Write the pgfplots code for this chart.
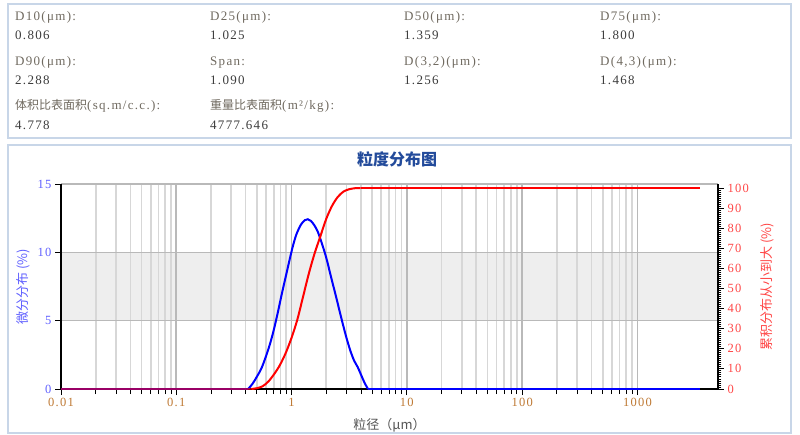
\documentclass[border=0pt]{standalone}
\usepackage{fontspec}
\setmainfont{Liberation Serif}
\newfontfamily\hdr{Liberation Serif}[LetterSpace=10]
\newfontfamily\cjk{Noto Sans CJK SC}
\usepackage{pgfplots}
\pgfplotsset{compat=1.18}

\definecolor{panelline}{RGB}{200,214,232}
\definecolor{lbl}{RGB}{112,106,96}
\definecolor{val}{RGB}{60,60,60}
\definecolor{ttl}{RGB}{35,75,155}
\definecolor{lblue}{RGB}{95,95,255}
\definecolor{lred}{RGB}{255,70,70}
\definecolor{xtk}{RGB}{190,120,50}
\definecolor{band}{RGB}{238,238,238}
\definecolor{gmajor}{RGB}{185,185,185}
\definecolor{gminor}{RGB}{215,215,215}
\definecolor{xlab}{RGB}{85,85,85}

% header entries: x, baseline y (px from top), text
\newcommand\hl[3]{\node[anchor=base west,inner sep=0pt,text=lbl] at (#1pt,-#2pt) {\hdr\fontsize{13}{15}\selectfont #3};}
\newcommand\hv[3]{\node[anchor=base west,inner sep=0pt,text=val] at (#1pt,-#2pt) {\hdr\fontsize{13}{15}\selectfont #3};}

\begin{document}
\begin{tikzpicture}
\fill[white] (0,0) rectangle (800pt,-435pt);
\draw[panelline, line width=1.5pt] (8pt,-4pt) rectangle (791pt,-138pt);
\draw[panelline, line width=1.5pt] (8pt,-145pt) rectangle (791pt,-433pt);

\hl{15}{21}{D10(μm):}    \hl{210}{21}{D25(μm):}  \hl{404}{21}{D50(μm):}       \hl{600}{21}{D75(μm):}
\hv{15}{40}{0.806}       \hv{210}{40}{1.025}     \hv{404}{40}{1.359}          \hv{600}{40}{1.800}
\hl{15}{66}{D90(μm):}    \hl{210}{66}{Span:}     \hl{404}{66}{D(3,2)(μm):}    \hl{600}{66}{D(4,3)(μm):}
\hv{15}{84.5}{2.288}     \hv{210}{84.5}{1.090}   \hv{404}{84.5}{1.256}        \hv{600}{84.5}{1.468}
\hl{15}{110}{{\cjk\fontsize{12}{14}\selectfont 体积比表面积}(sq.m/c.c.):}
\hl{210}{110}{{\cjk\fontsize{12}{14}\selectfont 重量比表面积}(m²/kg):}
\hv{15}{129.5}{4.778}    \hv{210}{129.5}{4777.646}

\node[text=ttl, font=\cjk\bfseries\fontsize{16}{18}\selectfont] at (397pt,-159pt) {粒度分布图};

% shaded band 5..10, drawn first so the grid lies over it
\begin{axis}[
  at={(61pt,-389pt)}, anchor=south west,
  scale only axis, width=657pt, height=205pt,
  xmode=log, xmin=0.01, xmax=5000, ymin=0, ymax=15,
  hide axis,
]
\addplot[draw=none, fill=band] coordinates {(0.01,5) (5000,5) (5000,10) (0.01,10) (0.01,5)};
\end{axis}

\begin{axis}[
  at={(61pt,-389pt)}, anchor=south west,
  scale only axis, width=657pt, height=205pt,
  xmode=log, xmin=0.01, xmax=5000,
  ymin=0, ymax=15,
  axis x line*=bottom, axis y line*=left,
  axis line style={black, line width=1.5pt, -},
  xtick={0.01,0.1,1,10,100,1000},
  xticklabels={0.01,0.1,1,10,100,1000},
  ytick={0,5,10,15},
  /pgf/number format/assume math mode=true,
  xmajorgrids, xminorgrids, ymajorgrids,
  major x grid style={gmajor, line width=1.6pt},
  minor x grid style={gminor, line width=1.6pt},
  y grid style={gmajor, line width=1.6pt},
  tick align=outside,
  major tick length=6pt, minor tick length=5pt,
  tick style={black, line width=0.9pt},
  ticklabel style={font=\hdr\fontsize{12.5}{14}\selectfont},
  xticklabel style={text=xtk},
  yticklabel style={text=lblue},
  xlabel={粒径（μm）},
  xlabel style={at={(axis description cs:0.5,-0.176)}, anchor=center,
                text=xlab, font=\cjk\fontsize{13}{15}\selectfont},
  ylabel={微分分布 (\%)},
  ylabel style={at={(axis description cs:-0.058,0.5)}, anchor=center,
                text=lblue, font=\cjk\fontsize{13}{15}\selectfont},
]
\addplot[blue, line width=1.8pt] coordinates {(0.01,0) (0.42,0)};
\addplot[blue, line width=1.8pt] coordinates {(4.6,0) (3500,0)};
\addplot[blue, line width=2pt, smooth] coordinates {
  (0.42,0) (0.46,0.4) (0.5,0.9) (0.547,1.5) (0.6,2.4) (0.65,3.3) (0.7,4.3)
  (0.76,5.6) (0.82,6.9) (0.9,8.4) (0.97,9.6) (1.03,10.5) (1.1,11.3) (1.2,12.0)
  (1.3,12.35) (1.384,12.42) (1.47,12.3) (1.57,12.0) (1.69,11.5) (1.84,10.6)
  (2.0,9.6) (2.2,8.2) (2.44,6.7) (2.7,5.2) (2.97,3.85) (3.25,2.75) (3.5,2.05)
  (3.75,1.6) (4.0,1.05) (4.3,0.45) (4.6,0)
};
\end{axis}

\begin{axis}[
  at={(61pt,-389pt)}, anchor=south west,
  scale only axis, width=657pt, height=205pt,
  xmode=log, xmin=0.01, xmax=5000,
  ymin=0, ymax=102,
  axis x line=none, axis y line*=right,
  axis line style={black, line width=1.5pt, -},
  ytick={0,10,...,100}, minor y tick num=9,
  /pgf/number format/assume math mode=true,
  tick align=outside,
  major tick length=6pt, minor tick length=3.5pt,
  tick style={black, line width=0.9pt},
  ticklabel style={font=\hdr\fontsize{12.5}{14}\selectfont},
  yticklabel style={text=lred},
  ylabel={累积分布从小到大 (\%)},
  ylabel style={at={(axis description cs:1.075,0.5)}, anchor=center,
                text=lred, font=\cjk\fontsize{13}{15}\selectfont},
]
\addplot[red, line width=1.8pt, opacity=0.6] coordinates {(0.01,0) (0.447,0)};
\addplot[red, line width=2pt, smooth] coordinates {
  (0.447,0) (0.501,0.4) (0.562,1.4) (0.631,3.8) (0.708,7.5) (0.794,12.0)
  (0.891,18.0) (1.0,25.5) (1.122,34.5) (1.259,46.0) (1.413,57.5) (1.585,67.5)
  (1.778,76.0) (1.995,84.5) (2.239,91.0) (2.512,95.5) (2.818,98.2)
  (3.162,99.4) (3.548,99.9) (3.981,100)
};
\addplot[red, line width=2pt] coordinates {(3.981,100) (3500,100)};
\end{axis}
\pgfresetboundingbox
\path (0,0) rectangle (800pt,-435pt);
\end{tikzpicture}
\end{document}
